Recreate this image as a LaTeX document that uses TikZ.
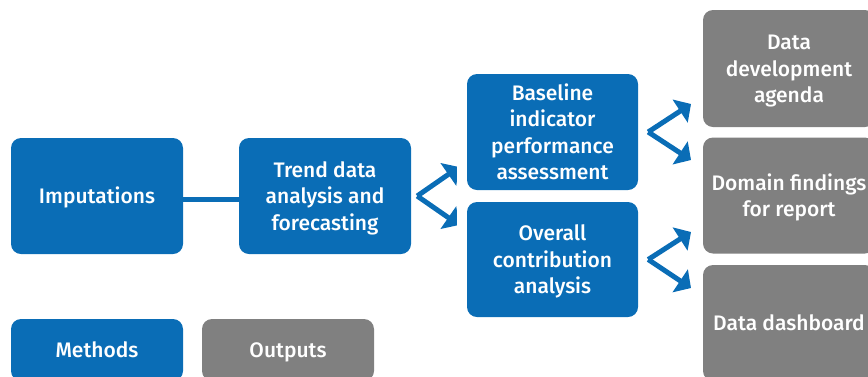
\documentclass[tikz,border=0pt]{standalone}
\usepackage{fontspec}
\setmainfont{Fira Sans}[BoldFont={Fira Sans Medium}]
\usetikzlibrary{arrows.meta}
\definecolor{cblue}{RGB}{10,109,182}
\definecolor{cgray}{RGB}{128,128,128}
\newcommand{\boxtext}[1]{\raisebox{-2.5pt}[\height][\depth]{\begin{tabular}{@{}c@{}}#1\end{tabular}}}
\begin{document}
\begin{tikzpicture}[x=1pt,y=-1pt,
  box/.style={rounded corners=10pt, minimum width=172pt, minimum height=116pt,
    inner sep=0pt, text=white, font=\fontsize{21}{26.5}\selectfont\bfseries},
  mbox/.style={box, fill=cblue},
  obox/.style={box, fill=cgray},
  legend/.style={minimum height=62pt},
  link/.style={draw=cblue, line width=5pt},
  arr/.style={link, -{Triangle[width=27pt,length=13pt]}}]
\useasboundingbox (0,0) rectangle (868,376);
\clip (0,0) rectangle (868,376);
% method boxes
\node[mbox] (imp) at (97,196) {\boxtext{Imputations}};
\node[mbox] (trend) at (325,196) {\boxtext{Trend data\\analysis and\\forecasting}};
\node[mbox, minimum width=171pt] (base) at (552.5,132) {\boxtext{Baseline\\indicator\\performance\\assessment}};
\node[mbox, minimum width=171pt, minimum height=115pt] (overall) at (552.5,259.5) {\boxtext{Overall\\contribution\\analysis}};
% output boxes
\node[obox, minimum height=117pt] (dda) at (789,68.5) {\boxtext{Data\\development\\agenda}};
\node[obox] (dom) at (789,195.5) {\boxtext{Domain findings\\for report}};
\node[obox] (dash) at (789,323) {\boxtext{Data dashboard}};
% legend
\node[mbox, legend] (methods) at (97,350) {\boxtext{Methods}};
\node[obox, legend] (outputs) at (288,350) {\boxtext{Outputs}};
% connectors
\draw[link] ([yshift=-3pt]imp.east) -- ([yshift=-3pt]trend.west);
\coordinate (v1) at ([xshift=6pt]trend.east);
\coordinate (v2) at ([xshift=10pt]base.east);
\coordinate (v3) at ([xshift=10pt]overall.east);
\coordinate (e1a) at (459,167);
\coordinate (e1b) at (459,225);
\coordinate (e2a) at (691,104);
\coordinate (e2b) at (691,160);
\coordinate (e3a) at (691,232);
\coordinate (e3b) at (691,288);
\begin{scope}
  \clip (0,0) rectangle ([xshift=-10pt]base.west |- 0,376);
  \draw[arr] (v1) -- (e1a);
  \draw[arr] (v1) -- (e1b);
\end{scope}
\begin{scope}
  \clip (0,0) rectangle ([xshift=-12pt]dda.west |- 0,376);
  \draw[arr] (v2) -- (e2a);
  \draw[arr] (v2) -- (e2b);
  \draw[arr] (v3) -- (e3a);
  \draw[arr] (v3) -- (e3b);
\end{scope}
\end{tikzpicture}
\end{document}
